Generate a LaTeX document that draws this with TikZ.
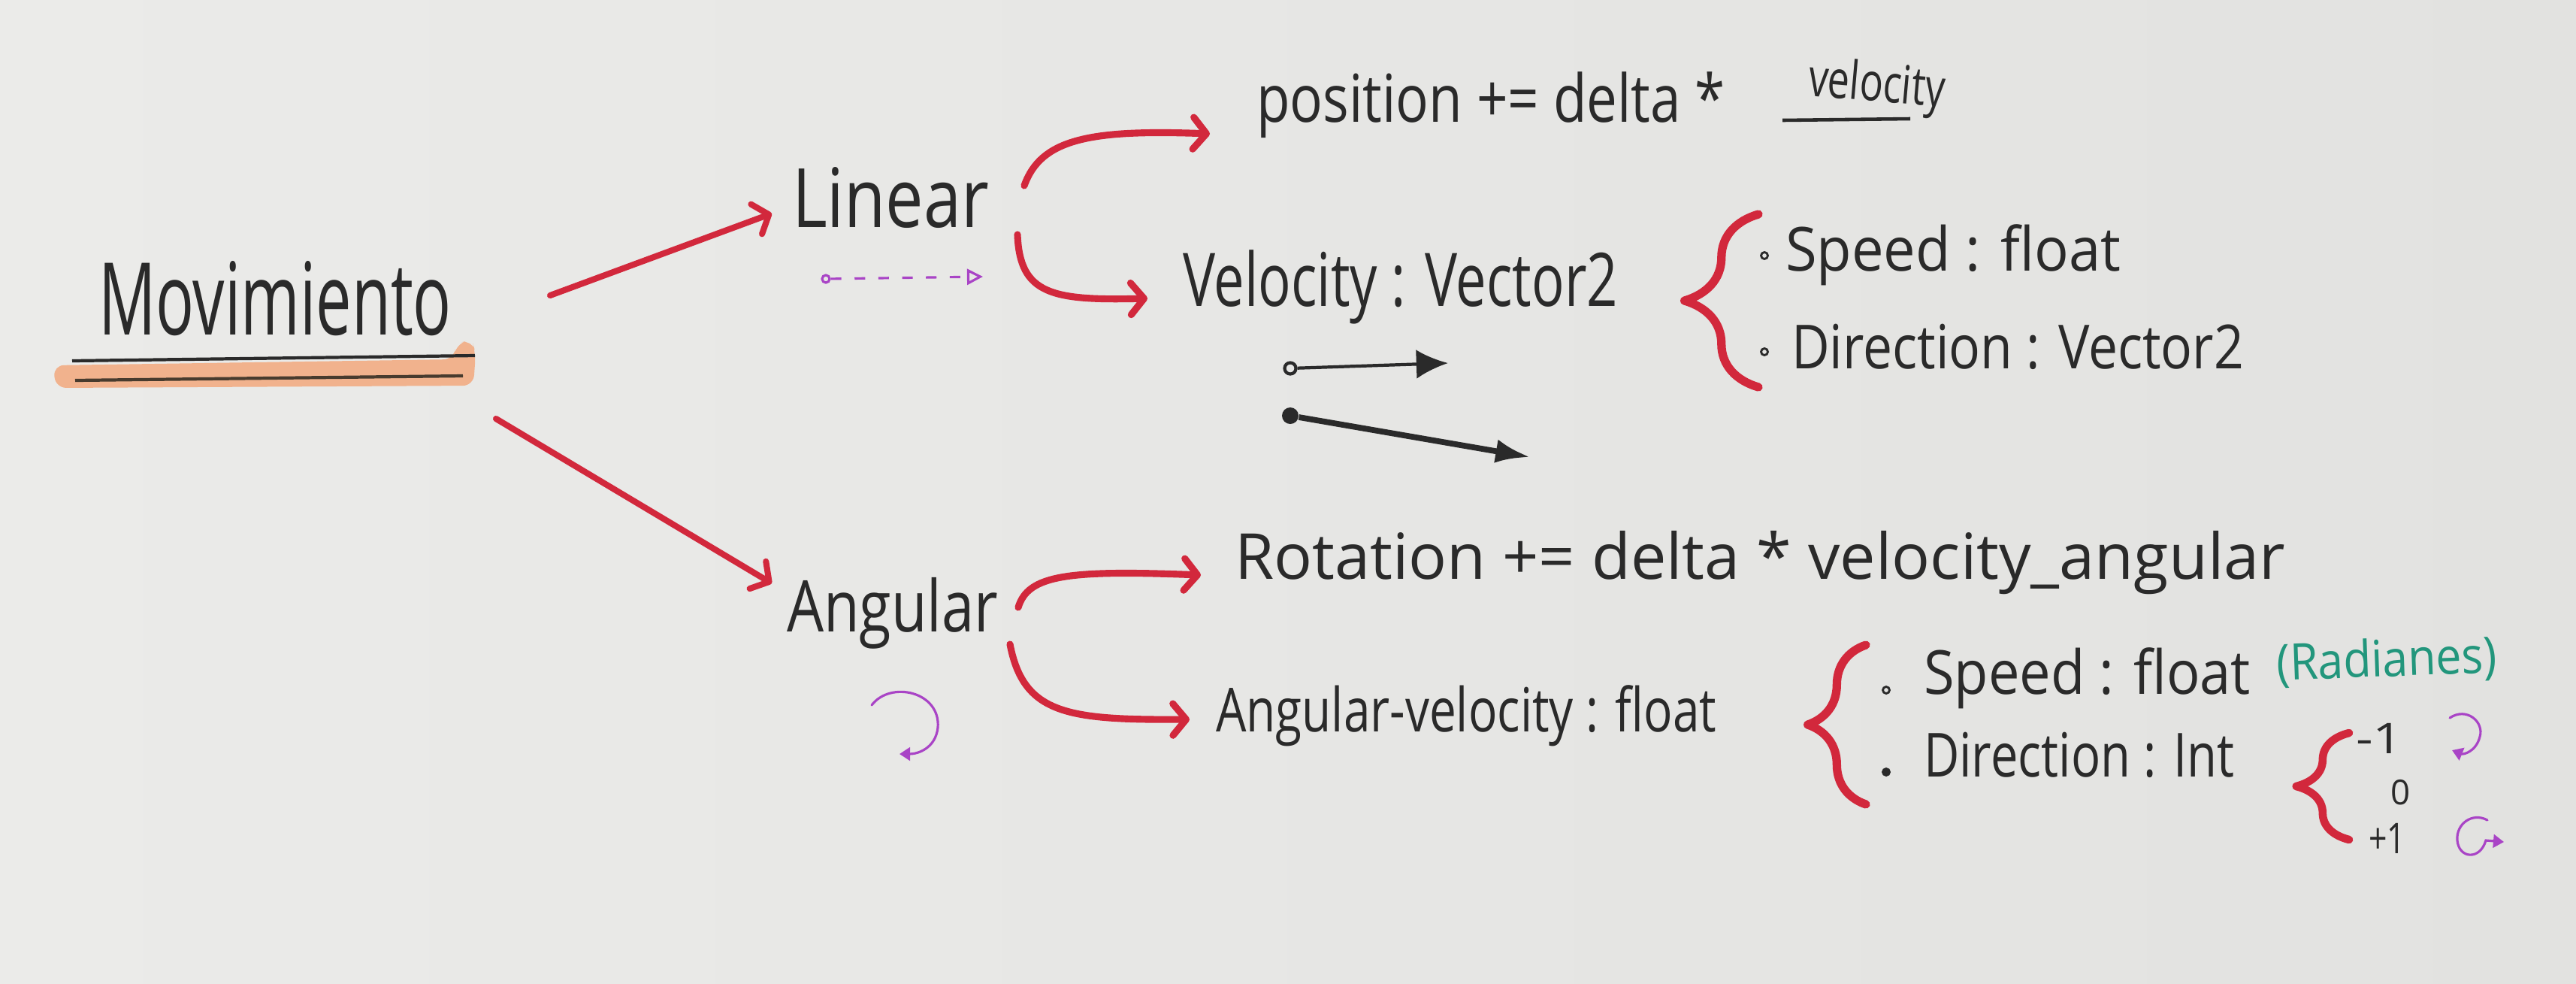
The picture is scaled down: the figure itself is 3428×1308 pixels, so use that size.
\documentclass[tikz,border=0pt]{standalone}
\usepackage{fontspec}
\setmainfont{Open Sans}
\usepackage{graphicx}
\usetikzlibrary{arrows.meta,decorations.pathreplacing}
\definecolor{paperL}{HTML}{EBEBE9}
\definecolor{paperR}{HTML}{E2E2E0}
\definecolor{ink}{HTML}{2A2A2A}
\definecolor{marker}{HTML}{D2283C}
\definecolor{violet}{HTML}{A944C6}
\definecolor{tealink}{HTML}{22967C}
\definecolor{hilite}{HTML}{F1B28D}
\newdimen\pxu \pxu=0.01cm
\newcommand\hw[2]{\resizebox{#1\pxu}{\height}{#2}}
\newcommand\fs[1]{\fontsize{#1}{#1}\selectfont}
\begin{document}
\begin{tikzpicture}[x=0.01cm,y=-0.01cm,
  txt/.style={anchor=base west, inner sep=0pt, outer sep=0pt, text=ink},
  redarrow/.style={draw=marker, line width=2.6pt, line cap=round, -{Straight Barb[round,length=5pt,width=12pt]}},
  bracestyle/.style={draw=marker, line width=3.2pt, line cap=round, line join=round, decorate},
  bullet/.style={circle, draw=ink, line width=0.8pt, inner sep=0pt, minimum size=0.09cm},
  purplearrow/.style={draw=violet, line width=0.9pt, line cap=round, -{Triangle[length=4pt,width=5pt]}}]
% paper
\shade[left color=paperL, right color=paperR] (0,0) rectangle (3428,1308);
\useasboundingbox (0,0) rectangle (3428,1308);

% Movimiento + highlight
\fill[hilite, rounded corners=4pt] (71,486) -- (604,478) -- (607,457) -- (628,452) -- (633,470) -- (630,513) -- (74,516) -- cycle;
\draw[ink, line width=1.2pt] (96,480) -- (632,473);
\draw[ink!80!brown, line width=1.2pt] (100,506) -- (616,500);
\node[txt] (mov) at (131,445) {\fs{38}\hw{470}{Movimiento}};

% Linear branch
\node[txt] (lin) at (1054,302) {\fs{31}\hw{262}{Linear}};
\coordinate (a1s) at (732,393); \coordinate (a1e) at (1027,284);
\draw[redarrow, line width=2.3pt] (a1s) -- (a1e);

\node[txt] (pos) at (1672,162) {\fs{25}\hw{624}{position += delta *}};
\node[txt, rotate=-5] (posvel) at (2405,127) {\fs{20}\hw{182}{velocity}};
\draw[ink, line width=1.3pt] (2372,160) -- (2542,158);

\node[txt] (vel) at (1574,407) {\fs{28}\hw{579}{Velocity : Vector2}};

\coordinate (a3s) at (1363,247); \coordinate (a3e) at (1610,178);
\draw[redarrow] (a3s) .. controls (1385,185) and (1450,172) .. (a3e);
\coordinate (a4s) at (1354,312); \coordinate (a4e) at (1527,397);
\draw[redarrow] (a4s) .. controls (1357,392) and (1400,400) .. (a4e);

% dashed purple arrow
\node[circle, draw=violet, line width=0.9pt, inner sep=0pt, minimum size=0.1cm] (ds) at (1099,371) {};
\coordinate (de) at (1308,368);
\draw[violet, line width=0.9pt, dash pattern=on 4pt off 5pt, -{Triangle[open,length=6pt,width=6pt]}] (ds) -- (de);

% black vectors
\node[circle, draw=ink, line width=1.2pt, inner sep=0pt, minimum size=0.15cm] (v1s) at (1717,490) {};
\coordinate (v1e) at (1927,483);
\draw[ink, line width=1.2pt, -{Latex[length=12pt,width=11pt]}] (v1s) -- (v1e);
\node[circle, fill=ink, inner sep=0pt, minimum size=0.22cm] (v2s) at (1717,553) {};
\coordinate (v2e) at (2036,608);
\draw[ink, line width=2.2pt, -{Latex[length=13pt,width=9pt]}] (v2s) -- (v2e);

% brace 1
\draw[bracestyle, decoration={brace, amplitude=28pt}] (2340,515) -- (2340,285);
\node[bullet] (b1) at (2348,340) {};
\node[txt] (sp1) at (2376,360) {\fs{23}\hw{446}{Speed : float}};
\node[bullet] (b2) at (2348,468) {};
\node[txt] (dir1) at (2384,490) {\fs{23}\hw{602}{Direction : Vector2}};

% Angular branch
\node[txt] (ang) at (1047,840) {\fs{27}\hw{281}{Angular}};
\coordinate (a2s) at (660,557); \coordinate (a2e) at (1027,776);
\draw[redarrow, line width=2.3pt] (a2s) -- (a2e);

\node[txt] (rot) at (1643,770) {\fs{24}\hw{1398}{Rotation += delta * velocity\_angular}};
\coordinate (a5s) at (1355,808); \coordinate (a5e) at (1598,765);
\draw[redarrow] (a5s) .. controls (1368,765) and (1420,758) .. (a5e);

\node[txt] (angv) at (1618,973) {\fs{23}\hw{666}{Angular-velocity : float}};
\coordinate (a6s) at (1344,857); \coordinate (a6e) at (1583,957);
\draw[redarrow] (a6s) .. controls (1362,950) and (1420,958) .. (a6e);

% purple rotation arrow below Angular
\coordinate (cs) at (1160,938); \coordinate (ce) at (1197,1003);
\draw[purplearrow] (cs) .. controls (1185,905) and (1252,920) .. (1248,968) .. controls (1245,995) and (1222,1003) .. (ce);

% brace 2
\draw[bracestyle, decoration={brace, amplitude=22pt}] (2483,1070) -- (2483,858);
\node[bullet] (b3) at (2510,918) {};
\node[txt] (sp2) at (2560,923) {\fs{23}\hw{435}{Speed : float}};
\node[txt, text=tealink, rotate=2] (rad) at (3030,905) {\fs{19}\hw{294}{(Radianes)}};
\node[bullet, fill=ink] (b4) at (2510,1027) {};
\node[txt] (dir2) at (2560,1033) {\fs{23}\hw{413}{Direction : Int}};

% brace 3
\draw[bracestyle, line width=3pt, decoration={brace, amplitude=20pt}] (3126,1117) -- (3126,975);
\node[txt] (m1) at (3135,1002) {\fs{16}\hw{63}{-1}};
\node[txt] (z0) at (3181,1070) {\fs{13}0};
\node[txt] (p1) at (3152,1135) {\fs{16}\hw{49}{+1}};

% small purple direction symbols
\coordinate (r1s) at (3260,955); \coordinate (r1e) at (3263,998);
\draw[purplearrow] (r1s) .. controls (3282,940) and (3306,960) .. (3300,980) .. controls (3295,1000) and (3278,1004) .. (r1e);
\coordinate (r2s) at (3310,1091); \coordinate (r2e) at (3332,1120);
\draw[purplearrow] (r2s) .. controls (3290,1080) and (3268,1096) .. (3270,1118) .. controls (3272,1142) and (3300,1145) .. (3308,1118) -- (r2e);
\end{tikzpicture}
\end{document}
